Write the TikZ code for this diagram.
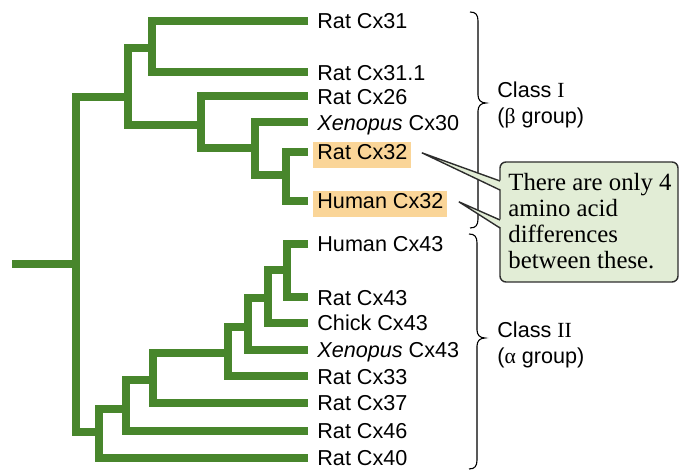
\documentclass[tikz,border=0pt]{standalone}
\usepackage{fontspec}
\setmainfont{Liberation Sans}
\newfontfamily\serifnote{Liberation Serif}
\usetikzlibrary{calc}
\definecolor{treegreen}{RGB}{72,134,44}
\definecolor{hilite}{RGB}{250,213,152}
\definecolor{notefill}{RGB}{226,237,214}
\definecolor{noteline}{RGB}{45,45,45}
\begin{document}
\begin{tikzpicture}[x=0.5pt,y=-0.5pt,
  branch/.style={draw=treegreen, line width=4pt, line cap=butt, line join=miter},
  leaf/.style={anchor=base west, inner xsep=2pt, inner ysep=1.2pt, text height=8pt, text depth=2.8pt, font=\fontsize{10.8}{13}\selectfont},
  hl/.style={leaf, fill=hilite},
  cls/.style={anchor=base west, inner sep=0pt, font=\fontsize{10.8}{13}\selectfont},
  notebox/.style={draw=noteline, line width=0.7pt, fill=notefill, rounded corners=3pt},
  notetext/.style={anchor=north west, inner sep=0pt, align=left, font=\serifnote\fontsize{12.4}{13}\selectfont},
  tail/.style={draw=noteline, line width=0.7pt},
  bracepath/.style={draw=black, line width=0.55pt},
]
\useasboundingbox (0,0) rectangle (682,474);

% leaves
\coordinate (L1) at (308,21);
\coordinate (L2) at (308,72.5);
\coordinate (L3) at (308,96.5);
\coordinate (L4) at (308,122.5);
\coordinate (L5) at (308,152);
\coordinate (L6) at (308,201);
\coordinate (L7) at (308,244);
\coordinate (L8) at (308,297.5);
\coordinate (L9) at (308,323);
\coordinate (L10) at (308,350);
\coordinate (L11) at (308,376.5);
\coordinate (L12) at (308,403);
\coordinate (L13) at (308,431);
\coordinate (L14) at (308,458);

% internal nodes
\coordinate (A) at (152,48);
\coordinate (D) at (286,175);
\coordinate (C) at (255,148);
\coordinate (B) at (201,125);
\coordinate (E) at (128,97);
\coordinate (R) at (76,264);
\coordinate (S) at (12,264);
\coordinate (K) at (287,270);
\coordinate (J) at (268,298);
\coordinate (I) at (248,327);
\coordinate (H) at (228,353);
\coordinate (G) at (153,380);
\coordinate (F2) at (126,409);
\coordinate (F1) at (99,432);

% tree
\draw[branch] (L1) -| (A) |- (L2);
\draw[branch] (L5) -| (D) |- (L6);
\draw[branch] (L4) -| (C) |- (D);
\draw[branch] (L3) -| (B) |- (C);
\draw[branch] (A) -| (E) |- (B);
\draw[branch] (E) -| (R) |- (F1);
\draw[branch] (S) -- (R);
\draw[branch] (L7) -| (K) |- (L8);
\draw[branch] (K) -| (J) |- (L9);
\draw[branch] (J) -| (I) |- (L10);
\draw[branch] (I) -| (H) |- (L11);
\draw[branch] (H) -| (G) |- (L12);
\draw[branch] (G) -| (F2) |- (L13);
\draw[branch] (F2) -| (F1) |- (L14);

% labels
\node[leaf] (t1) at ($(L1)+(5,8)$) {Rat Cx31};
\node[leaf] (t2) at ($(L2)+(5,8)$) {Rat Cx31.1};
\node[leaf] (t3) at ($(L3)+(5,8)$) {Rat Cx26};
\node[leaf] (t4) at ($(L4)+(5,8)$) {\textit{Xenopus} Cx30};
\node[hl] (t5) at ($(L5)+(5,8)$) {Rat Cx32};
\node[hl] (t6) at ($(L6)+(5,8)$) {Human Cx32};
\node[leaf] (t7) at ($(L7)+(5,8)$) {Human Cx43};
\node[leaf] (t8) at ($(L8)+(5,8)$) {Rat Cx43};
\node[leaf] (t9) at ($(L9)+(5,8)$) {Chick Cx43};
\node[leaf] (t10) at ($(L10)+(5,8)$) {\textit{Xenopus} Cx43};
\node[leaf] (t11) at ($(L11)+(5,8)$) {Rat Cx33};
\node[leaf] (t12) at ($(L12)+(5,8)$) {Rat Cx37};
\node[leaf] (t13) at ($(L13)+(5,8)$) {Rat Cx46};
\node[leaf] (t14) at ($(L14)+(5,8)$) {Rat Cx40};

% braces
\draw[bracepath] (470,12) .. controls (476,12) and (478,15) .. (478,21) -- (478,95) .. controls (478,100) and (481,103) .. (486,103) .. controls (481,103) and (478,106) .. (478,111) -- (478,219) .. controls (478,225) and (476,228) .. (470,228);
\draw[bracepath] (469,234) .. controls (475,234) and (477,237) .. (477,243) -- (477,330) .. controls (477,335) and (480,338) .. (485,338) .. controls (480,338) and (477,341) .. (477,346) -- (477,460) .. controls (477,466) and (475,469) .. (469,469);

% class labels
\node[cls] (c1a) at (497,98) {Class {\serifnote I}};
\node[cls] (c1b) at (497,124) {({\serifnote β} group)};
\node[cls] (c2a) at (497,338) {Class {\serifnote II}};
\node[cls] (c2b) at (497,364) {({\serifnote α} group)};

% callout box
\coordinate (nbtl) at (500,162);
\coordinate (nbbr) at (678,282);
\draw[notebox] (nbtl) rectangle (nbbr);
\node[notetext] (note) at (508,173) {There are only 4\\amino acid\\differences\\between these.};
\coordinate (tip1) at ($(t5.east)+(10,-2)$);
\coordinate (a1) at ($(nbtl)+(0,19)$);
\coordinate (b1) at ($(nbtl)+(0,28)$);
\coordinate (tip2) at ($(t6.east)+(11,-2)$);
\coordinate (a2) at ($(nbtl)+(0,58)$);
\coordinate (b2) at ($(nbtl)+(0,66)$);
\fill[notefill] (tip1) -- ($(a1)+(2,0)$) -- ($(b1)+(2,0)$) -- cycle;
\draw[tail] (a1) -- (tip1) -- (b1);
\fill[notefill] (tip2) -- ($(a2)+(2,0)$) -- ($(b2)+(2,0)$) -- cycle;
\draw[tail] (a2) -- (tip2) -- (b2);
\end{tikzpicture}
\end{document}
